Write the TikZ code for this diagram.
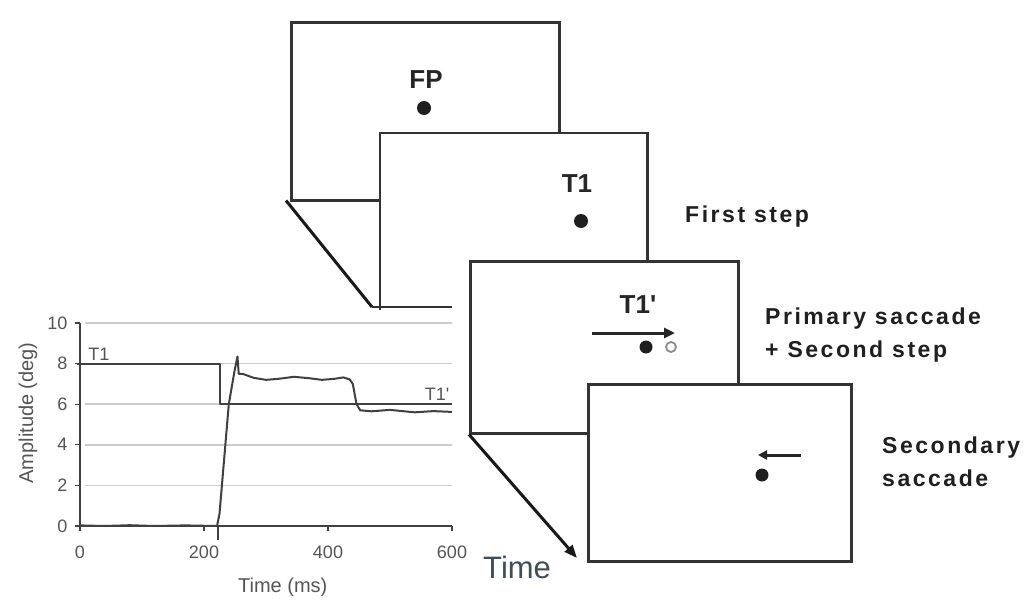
\documentclass[tikz,border=0pt]{standalone}
\usepackage{fontspec}
\setmainfont{Liberation Sans}
\newfontfamily\sidefont[LetterSpace=11]{Liberation Sans}
\newfontfamily\lblfont{Liberation Sans}
\usetikzlibrary{arrows.meta}
\definecolor{frameC}{HTML}{333333}
\definecolor{gridC}{HTML}{CCCCCC}
\definecolor{chartT}{HTML}{555555}
\definecolor{traceC}{HTML}{404040}
\definecolor{timeC}{HTML}{3F4E57}
\tikzset{
  frame/.style={draw=frameC, line width=2.5pt, fill=white, rectangle, inner sep=0pt, anchor=north west},
  frameedge/.style={draw=frameC, line width=2.5pt},
  diag/.style={draw=black!90, line width=3pt},
  dotc/.style={circle, fill=black!88, inner sep=0pt, minimum size=14pt},
  hollow/.style={circle, draw=black!45, line width=1.8pt, inner sep=0pt, minimum size=10pt},
  lbl/.style={font=\lblfont\bfseries\fontsize{26}{28}\selectfont, text=black!85, inner sep=0pt},
  side/.style={font=\sidefont\bfseries\fontsize{23}{26}\selectfont, text=black!88, inner sep=0pt, anchor=base west},
  movearrow/.style={draw=black!85, line width=3pt, -{Triangle[length=11pt,width=10pt]}},
  gridln/.style={draw=gridC, line width=1.5pt},
  axisln/.style={draw=traceC, line width=1.8pt},
  trace/.style={draw=traceC, line width=2pt, line join=round},
  ticklbl/.style={font=\lblfont\fontsize{18}{20}\selectfont, text=chartT, inner sep=0pt},
  axtitle/.style={font=\lblfont\fontsize{20}{22}\selectfont, text=chartT, inner sep=0pt},
}
\begin{document}
\begin{tikzpicture}[x=1pt,y=-1pt]
\useasboundingbox[fill=white] (0,0) rectangle (1036,605);

% frames
\node[frame, minimum width=268pt, minimum height=178pt] (f1) at (290,21) {};
\node[frame, draw=none, minimum width=265pt, minimum height=174pt] (f2) at (380,133) {};
\draw[frameedge] (f2.south west) |- (f2.north east) -- (f2.south east);
\node[frame, minimum width=268pt, minimum height=172pt] (f3) at (469,260) {};
\node[frame, minimum width=263pt, minimum height=177pt] (f4) at (587,383) {};

% fold lines
\coordinate (c1) at (372,307);
\coordinate (c1e) at (452,307);
\coordinate (tend) at (577,558);
\draw[diag] ([xshift=-4pt,yshift=1pt]f1.south west) -- (c1);
\draw[frameedge] (c1) -- (c1e);
\draw[diag, -{Triangle[length=13pt,width=10pt]}] (f3.south west) -- (tend);

% frame 1
\node[lbl, anchor=base] (fpl) at (426,88) {FP};
\node[dotc] (fp) at (424,108) {};
% frame 2
\node[lbl, anchor=base] (t1l) at (577,192) {T1};
\node[dotc] (t1) at (581,221) {};
% frame 3
\node[lbl, anchor=base] (t1pl) at (638,313) {T1'};
\coordinate (a1s) at (592,333);
\coordinate (a1e) at (675,333);
\draw[movearrow] (a1s) -- (a1e);
\node[dotc, minimum size=13pt] (eye1) at (646,347) {};
\node[hollow] (t1p) at (671,347) {};
% frame 4
\coordinate (a2s) at (801,455);
\coordinate (a2e) at (758,455);
\draw[movearrow, -{Triangle[length=9pt,width=9pt]}] (a2s) -- (a2e);
\node[dotc, minimum size=13pt] (eye2) at (762,475) {};

% side labels
\node[side] (s1) at (685,222) {First step};
\node[side] (s2a) at (765,324) {Primary saccade};
\node[side] (s2b) at (765,357) {+ Second step};
\node[side] (s3a) at (882,453) {Secondary};
\node[side] (s3b) at (882,486) {saccade};

% Time
\node[anchor=base west, inner sep=0pt, text=timeC, font=\lblfont\fontsize{31}{33}\selectfont] (timel) at (483,578) {Time};

% chart
\begin{scope}[shift={(80,526)}, x=0.62pt, y=20.3pt]
  \foreach \v in {2,4,6,8,10} \draw[gridln] (8,\v) -- (600,\v);
  \draw[axisln] (0,0) -- (0,10);
  \foreach \v in {0,2,4,6,8,10} {
    \draw[axisln, line width=1.2pt] (-8,\v) -- (0,\v);
    \node[ticklbl, anchor=east] at (-20,\v) {\v};
  }
  \draw[axisln] (-5,0) -- (600,0);
  \foreach \t in {0,200,400,600} {
    \draw[axisln, line width=1.2pt] (\t,0) -- (\t,-0.25);
    \node[ticklbl, anchor=base] at (\t,-1.58) {\t};
  }
  \node[axtitle, anchor=base] (xt) at (327,-3.3) {Time (ms)};
  \node[axtitle, rotate=90] (yt) at (-84,5.57) {Amplitude (deg)};
  % target
  \draw[trace] (-5,8) -- (226,8) -- (226,6) -- (600,6);
  \node[ticklbl, anchor=base west] (tl1) at (13,8.15) {T1};
  \node[ticklbl, anchor=base west] (tl2) at (556,6.2) {T1'};
  % eye trace
  \draw[trace] (222,-0.7) -- (222,0);
  \draw[trace] (0,0.03) -- (40,0.0) -- (80,0.04) -- (120,0.0) -- (170,0.03) -- (221,0)
    -- (225,0.6) -- (240,6.0) -- (249,7.6) -- (254,8.35) -- (256,7.5) -- (262,7.5)
    -- (280,7.3) -- (300,7.2) -- (320,7.25) -- (345,7.35) -- (370,7.28) -- (390,7.2)
    -- (410,7.25) -- (425,7.32) -- (435,7.22) -- (440,7.0) -- (446,6.0) -- (452,5.7)
    -- (470,5.65) -- (500,5.72) -- (540,5.6) -- (570,5.66) -- (600,5.62);
\end{scope}
\end{tikzpicture}
\end{document}
